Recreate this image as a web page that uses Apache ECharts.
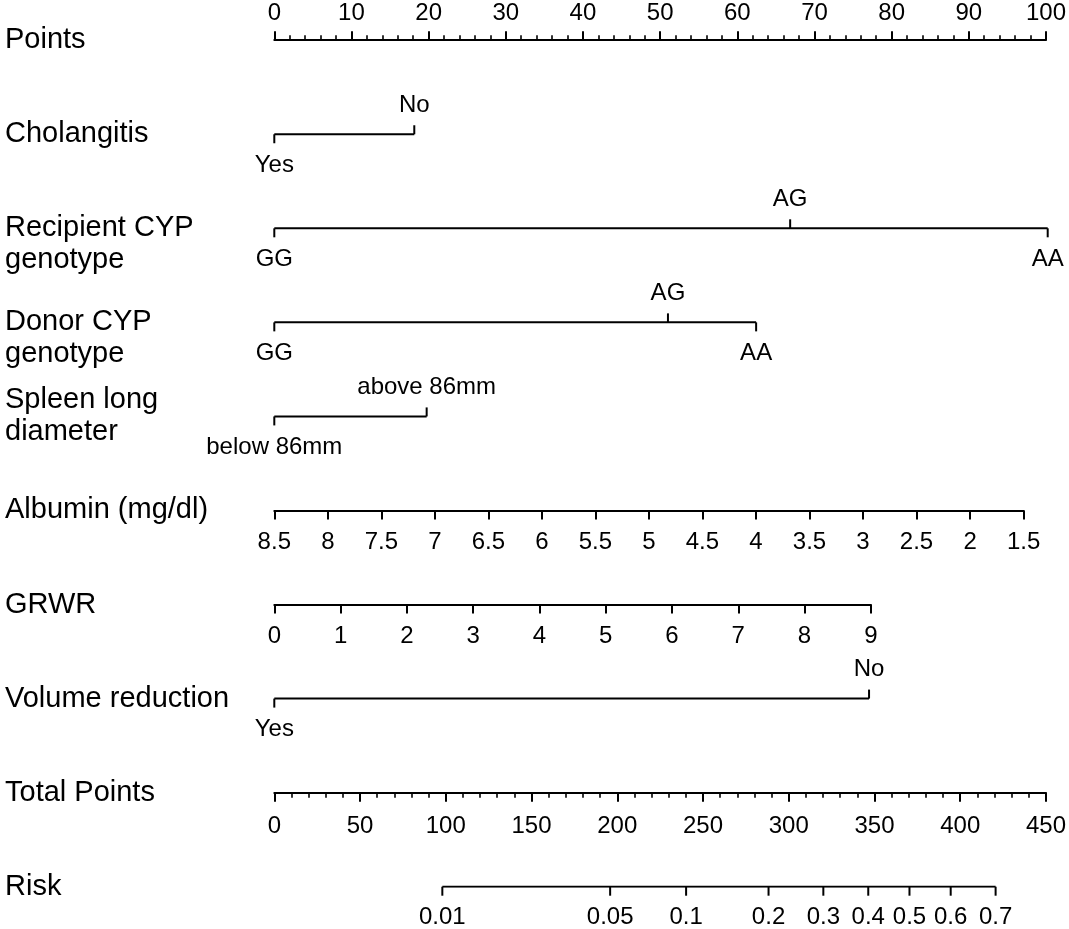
<!DOCTYPE html>
<html>
<head>
<meta charset="utf-8">
<title>Nomogram</title>
<script src="https://cdn.jsdelivr.net/npm/echarts@6/dist/echarts.min.js"></script>
<style>
  html, body { margin: 0; padding: 0; background: #fff; }
  #chart { width: 1069px; height: 929px; }
</style>
</head>
<body>
<div id="chart"></div>
<script>
// ---- data ----
const rowNames = ['Points', 'Cholangitis', 'Recipient CYP\ngenotype', 'Donor CYP\ngenotype',
    'Spleen long\ndiameter', 'Albumin (mg/dl)', 'GRWR', 'Volume reduction', 'Total Points', 'Risk'];

const pointsTicks = [0, 10, 20, 30, 40, 50, 60, 70, 80, 90, 100];

const cholangitisLevels = ['Yes', 'No'];
const cholangitisPoints = [0, 18.1];

const recipientLevels = ['GG', 'AG', 'AA'];
const recipientPoints = [0, 66.7, 100];

const donorLevels = ['GG', 'AG', 'AA'];
const donorPoints = [0, 50.9, 62.3];

const spleenLevels = ['below 86mm', 'above 86mm'];
const spleenPoints = [0, 19.7];

const albuminTicks = [8.5, 8, 7.5, 7, 6.5, 6, 5.5, 5, 4.5, 4, 3.5, 3, 2.5, 2, 1.5];
const albuminPointsPerUnit = 13.84;

const grwrTicks = [0, 1, 2, 3, 4, 5, 6, 7, 8, 9];
const grwrPointsPerUnit = 8.57;

const volumeLevels = ['Yes', 'No'];
const volumePoints = [0, 76.9];

const totalTicks = [0, 50, 100, 150, 200, 250, 300, 350, 400, 450];

const riskTicks = [0.01, 0.05, 0.1, 0.2, 0.3, 0.4, 0.5, 0.6, 0.7];
const riskIntercept = -6.248;   // logit(risk) = intercept + slope * total points
const riskSlope = 0.016906;

// ---- layout ----
const FONT = '"Liberation Sans", Arial, Helvetica, sans-serif';
const LABEL_SIZE = 24;
const axisLeft = 274.3;
const axisRightPx = 1047.7;
const rowTop = 40.2;
const rowBottom = 886.7;
const rowStep = (rowBottom - rowTop) / (rowNames.length - 1);
const pxPerPoint = (axisRightPx - axisLeft) / 100;
const tickLen = 9;
const lineStyle = { color: '#000', width: 2 };

function rowY(i) {
    return rowTop + i * rowStep;
}

function riskToTotal(p) {
    return (Math.log(p / (1 - p)) - riskIntercept) / riskSlope;
}

function span(arr) {
    return Math.max(...arr) - Math.min(...arr);
}

// a small grid holding one real numeric axis for a row
function rowGrid(row, pointsSpan, position) {
    return {
        left: axisLeft,
        top: position === 'top' ? rowY(row) : rowY(row) - 1,
        width: pointsSpan * pxPerPoint,
        height: 1
    };
}

function numericAxis(gridIndex, ticks, position, margin, minorSplit) {
    return {
        type: 'value',
        gridIndex: gridIndex,
        position: position,
        min: Math.min(...ticks),
        max: Math.max(...ticks),
        interval: Math.abs(ticks[1] - ticks[0]),
        inverse: ticks[0] > ticks[1],
        axisLine: { show: true, onZero: false, lineStyle: lineStyle },
        axisTick: { show: true, length: tickLen, lineStyle: lineStyle },
        minorTick: { show: !!minorSplit, splitNumber: minorSplit || 5, length: 5, lineStyle: { color: '#000', width: 1.6 } },
        splitLine: { show: false },
        minorSplitLine: { show: false },
        axisLabel: { margin: margin, fontSize: LABEL_SIZE, color: '#000', fontFamily: FONT, showMinLabel: true, showMaxLabel: true }
    };
}

function hiddenY(gridIndex) {
    return { type: 'value', gridIndex: gridIndex, show: false };
}

// axis segment for a categorical row (or risk)
function segment(row, xs, xAxisIndex) {
    return {
        type: 'line',
        xAxisIndex: xAxisIndex,
        yAxisIndex: 0,
        data: [[Math.min(...xs), row], [Math.max(...xs), row]],
        symbol: 'none',
        silent: true,
        lineStyle: lineStyle
    };
}

// ticks with labels; even levels below the line, odd levels above (risk: all below)
function levelTicks(row, xs, labels, xAxisIndex, allBelow) {
    return {
        type: 'custom',
        xAxisIndex: xAxisIndex,
        yAxisIndex: 0,
        clip: false,
        silent: true,
        data: xs.map(x => [x, row]),
        renderItem: function (params, api) {
            const p = api.coord([api.value(0), row]);
            const dir = (allBelow || params.dataIndex % 2 === 0) ? 1 : -1;
            return {
                type: 'group',
                children: [{
                    type: 'line',
                    shape: { x1: p[0], y1: p[1], x2: p[0], y2: p[1] + dir * tickLen },
                    style: { stroke: '#000', lineWidth: 2 }
                }, {
                    type: 'text',
                    x: p[0],
                    y: p[1] + (dir > 0 ? 31 : -29),
                    style: {
                        text: labels[params.dataIndex],
                        fill: '#000',
                        fontSize: LABEL_SIZE,
                        fontFamily: FONT,
                        align: 'center',
                        verticalAlign: 'middle'
                    }
                }]
            };
        }
    };
}

const chart = echarts.init(document.getElementById('chart'));

const option = {
    animation: false,
    backgroundColor: '#fff',
    grid: [
        { left: axisLeft, top: rowTop, width: 100 * pxPerPoint, height: rowBottom - rowTop },
        rowGrid(0, span(pointsTicks), 'top'),
        rowGrid(5, span(albuminTicks) * albuminPointsPerUnit, 'bottom'),
        rowGrid(6, span(grwrTicks) * grwrPointsPerUnit, 'bottom'),
        rowGrid(8, 100, 'bottom')
    ],
    xAxis: [
        { type: 'value', gridIndex: 0, min: 0, max: 100, show: false },
        { type: 'value', gridIndex: 0, min: Math.min(...totalTicks), max: Math.max(...totalTicks), show: false },
        numericAxis(1, pointsTicks, 'top', 15, 5),
        numericAxis(2, albuminTicks, 'bottom', 20, 0),
        numericAxis(3, grwrTicks, 'bottom', 20, 0),
        numericAxis(4, totalTicks, 'bottom', 22, 5)
    ],
    yAxis: [
        {
            type: 'category',
            gridIndex: 0,
            data: rowNames,
            inverse: true,
            boundaryGap: false,
            axisLine: { show: false },
            axisTick: { show: false },
            splitLine: { show: false },
            axisLabel: {
                interval: 0,
                align: 'left',
                margin: axisLeft - 5,
                fontSize: 29,
                lineHeight: 32,
                color: '#000',
                fontFamily: FONT,
                // genotype rows: first line sits on the axis line
                formatter: function (value, index) {
                    return (index === 2 || index === 3) ? '\n' + value : value;
                }
            }
        },
        hiddenY(1), hiddenY(2), hiddenY(3), hiddenY(4)
    ],
    series: [
        segment(1, cholangitisPoints, 0),
        levelTicks(1, cholangitisPoints, cholangitisLevels, 0),
        segment(2, recipientPoints, 0),
        levelTicks(2, recipientPoints, recipientLevels, 0),
        segment(3, donorPoints, 0),
        levelTicks(3, donorPoints, donorLevels, 0),
        segment(4, spleenPoints, 0),
        levelTicks(4, spleenPoints, spleenLevels, 0),
        segment(7, volumePoints, 0),
        levelTicks(7, volumePoints, volumeLevels, 0),
        segment(9, riskTicks.map(riskToTotal), 1),
        levelTicks(9, riskTicks.map(riskToTotal), riskTicks.map(String), 1, true)
    ]
};

chart.setOption(option);
</script>
</body>
</html>
